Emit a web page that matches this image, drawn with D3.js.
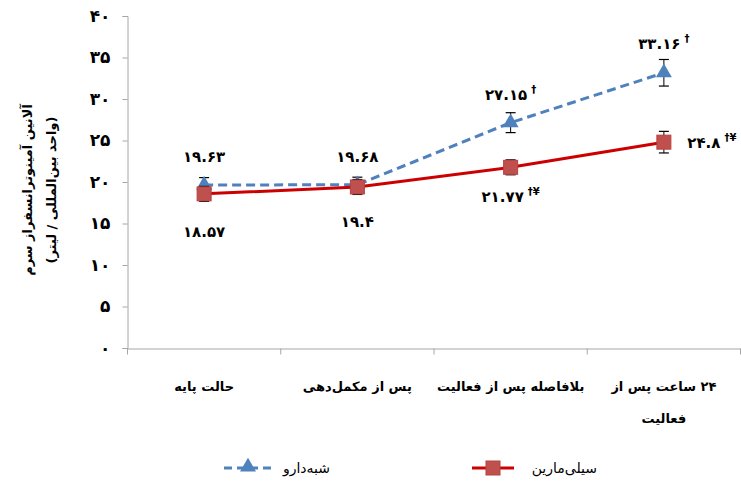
<!DOCTYPE html>
<html>
<head>
<meta charset="utf-8">
<script src="https://cdn.jsdelivr.net/npm/d3@7"></script>
<style>
    body { margin: 0; background: #fff; }
    text { font-family: "DejaVu Sans", sans-serif; font-weight: bold; }
</style>
</head>
<body>
<div id="chart"></div>
<script>
const categories = ["حالت پایه", "پس از مکمل‌دهی", "بلافاصله پس از فعالیت", "۲۴ ساعت پس از|فعالیت"];
const placeboValues = [19.63, 19.68, 27.15, 33.16];
const placeboErrors = [0.9, 0.9, 1.2, 1.6];
const placeboMarks = ["", "", "†", "†"];
const silyValues = [18.57, 19.4, 21.77, 24.8];
const silyErrors = [0.9, 0.9, 0.9, 1.3];
const silyMarks = ["", "", "†¥", "†¥"];
const yTicks = [0, 5, 10, 15, 20, 25, 30, 35, 40];

const width = 741, height = 484;
const AXIS = "#a6a6a6";
const BLUE = "#4f81bd", RED = "#cc0000", RED_FILL = "#c0504d";

let fa = n => String(n).replace(/[0-9]/g, d => "۰۱۲۳۴۵۶۷۸۹"[d]);

let svg = d3.select("#chart")
    .append("svg")
    .attr("width", width)
    .attr("height", height);

let x = d3.scaleBand()
    .domain(categories)
    .range([127.5, 740.5]);

let y = d3.scaleLinear()
    .domain([0, 40])
    .range([348, 16]);

let cx = c => x(c) + x.bandwidth() / 2;

// y axis
let yAxis = svg.append("g")
    .attr("transform", "translate(127.5,0)")
    .call(d3.axisLeft(y).tickValues(yTicks).tickSize(5).tickPadding(12).tickFormat(fa));
yAxis.select(".domain").attr("stroke", AXIS);
yAxis.selectAll(".tick line").attr("stroke", AXIS);
yAxis.selectAll("text")
    .style("font-size", "17px")
    .attr("fill", "#000");

// x axis
let xAxis = svg.append("g")
    .attr("transform", "translate(0,348.5)")
    .call(d3.axisBottom(x).tickSize(0).tickFormat(""));
xAxis.select(".domain").attr("stroke", AXIS);
let bounds = categories.map(c => x(c)).concat([x.range()[1]]);
xAxis.selectAll(".bound")
    .data(bounds)
    .enter()
    .append("line")
    .attr("x1", d => d)
    .attr("x2", d => d)
    .attr("y1", 0)
    .attr("y2", 6)
    .attr("stroke", AXIS);

// category labels
categories.forEach(c => {
    let lines = c.split("|");
    let t = svg.append("text")
        .attr("x", cx(c))
        .attr("y", 391)
        .attr("text-anchor", "middle")
        .attr("direction", "rtl")
        .style("font-size", "13px");
    lines.forEach((l, i) => {
        t.append("tspan")
            .attr("x", cx(c))
            .attr("dy", i == 0 ? 0 : 32)
            .text(l);
    });
});

// y title
let title = svg.append("text")
    .attr("transform", "translate(32,190)rotate(-90)")
    .attr("text-anchor", "middle")
    .attr("direction", "rtl")
    .style("font-size", "13px");
title.append("tspan").attr("x", 0).attr("dy", 0).text("آلانین آمینوترانسفراز سرم");
title.append("tspan").attr("x", 0).attr("dy", 24).text("(واحد بین‌المللی / لیتر)");

let drawSeries = (values, errors, color, dash, marker) => {
    let pts = categories.map((c, i) => ({ c: c, v: values[i], e: errors[i] }));
    let g = svg.append("g");
    g.append("path")
        .datum(pts)
        .attr("fill", "none")
        .attr("stroke", color)
        .attr("stroke-width", 3)
        .attr("stroke-dasharray", dash)
        .attr("d", d3.line().x(d => cx(d.c)).y(d => y(d.v)));
    pts.forEach(d => {
        let px = cx(d.c);
        g.append("line")
            .attr("x1", px).attr("x2", px)
            .attr("y1", y(d.v + d.e)).attr("y2", y(d.v - d.e))
            .attr("stroke", "#000").attr("stroke-width", 1);
        [d.v + d.e, d.v - d.e].forEach(v => {
            g.append("line")
                .attr("x1", px - 5).attr("x2", px + 5)
                .attr("y1", y(v)).attr("y2", y(v))
                .attr("stroke", "#000").attr("stroke-width", 1.2);
        });
        marker(g, px, y(d.v));
    });
};

let triangle = (g, px, py) => g.append("path")
    .attr("d", d3.symbol(d3.symbolTriangle, 110)())
    .attr("transform", `translate(${px},${py})`)
    .attr("fill", BLUE);

let square = (g, px, py) => g.append("rect")
    .attr("x", px - 7).attr("y", py - 7)
    .attr("width", 14).attr("height", 14)
    .attr("fill", RED_FILL)
    .attr("stroke", "#b5423f");

drawSeries(placeboValues, placeboErrors, BLUE, "9,5", triangle);
drawSeries(silyValues, silyErrors, RED, null, square);

// data labels
let label = (c, v, mark, dx, dy, anchor) => {
    let t = svg.append("text")
        .attr("x", cx(c) + dx)
        .attr("y", y(v) + dy)
        .attr("text-anchor", anchor)
        .attr("direction", "ltr")
        .style("font-size", "15px");
    t.append("tspan").text(fa(v));
    if (mark) {
        t.append("tspan")
            .attr("dx", 4)
            .attr("dy", -7)
            .style("font-size", "10px")
            .text(mark);
    }
};

let placeboOffsets = [[0, -23], [0, -23], [0, -23], [0, -24]];
let silyOffsets = [[0, 43], [0, 40], [0, 35], [48, 6]];
categories.forEach((c, i) => {
    label(c, placeboValues[i], placeboMarks[i], placeboOffsets[i][0], placeboOffsets[i][1], "middle");
    label(c, silyValues[i], silyMarks[i], silyOffsets[i][0], silyOffsets[i][1], "middle");
});

// legend
let legend = svg.append("g");
legend.append("line")
    .attr("x1", 224).attr("x2", 272).attr("y1", 468).attr("y2", 468)
    .attr("stroke", BLUE).attr("stroke-width", 3).attr("stroke-dasharray", "8,5");
triangle(legend, 248, 467);
legend.append("text")
    .attr("x", 330).attr("y", 473)
    .attr("text-anchor", "end")
    .attr("direction", "ltr")
    .style("font-size", "14px")
    .style("font-weight", "normal")
    .text("شبه‌دارو");

legend.append("line")
    .attr("x1", 472).attr("x2", 514).attr("y1", 468).attr("y2", 468)
    .attr("stroke", RED).attr("stroke-width", 3);
square(legend, 493, 468);
legend.append("text")
    .attr("x", 597).attr("y", 473)
    .attr("text-anchor", "end")
    .attr("direction", "ltr")
    .style("font-size", "14px")
    .style("font-weight", "normal")
    .text("سیلی‌مارین");
</script>
</body>
</html>
